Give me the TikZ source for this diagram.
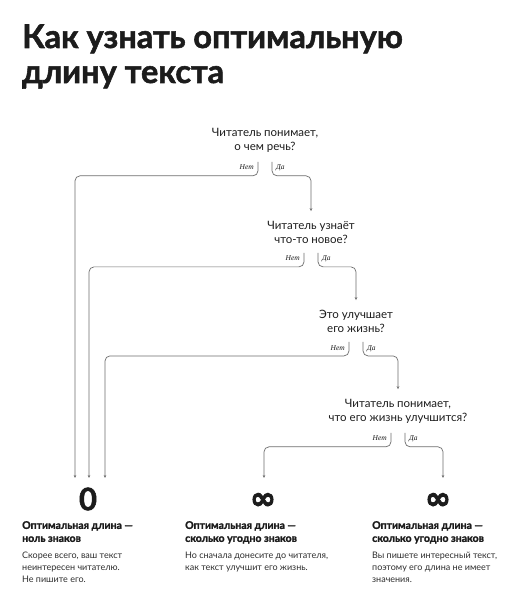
\documentclass[tikz,border=0pt]{standalone}
\usepackage{fontspec}
\setmainfont{Lato}
\newfontfamily\heavyfont{Lato}[BoldFeatures={FakeBold=1.6}]
\newfontfamily\answerfont{Liberation Serif}
\newfontfamily\symbolfont{DejaVu Sans}[BoldFeatures={FakeBold=3}]
\usetikzlibrary{arrows.meta,positioning}
\definecolor{inkblack}{HTML}{1C1C1C}
\definecolor{flowgray}{HTML}{6E6E6E}
\definecolor{bodygray}{HTML}{2E2E2E}

\begin{document}
\begin{tikzpicture}[x=1pt,y=-1pt,
  title/.style={anchor=base west,inner sep=0pt,font=\heavyfont\bfseries\fontsize{32.5}{35}\selectfont,text=inkblack},
  question/.style={align=center,inner xsep=0pt,inner ysep=9.5pt,font=\fontsize{11.5}{14}\selectfont,text=inkblack},
  answer/.style={inner sep=0pt,font=\answerfont\itshape\fontsize{7.5}{8}\selectfont,text=inkblack},
  flow/.style={draw=flowgray,line width=0.7pt,rounded corners=5pt,-{Stealth[length=3pt,width=2.6pt]}},
  result/.style={inner sep=0pt,text=inkblack},
  heading/.style={anchor=north west,inner sep=0pt,align=left,font=\heavyfont\bfseries\fontsize{10.5}{13}\selectfont,text=inkblack},
  note/.style={anchor=north west,inner sep=0pt,align=left,font=\fontsize{9}{12}\selectfont,text=bodygray}
]
  \useasboundingbox[fill=white] (0,0) rectangle (528,604);

  % title
  \node[title] (title1) at (22,48) {Как узнать оптимальную};
  \node[title] (title2) at (22,83) {длину текста};

  % questions
  \node[question] (q1) at (265,140) {Читатель понимает,\\о чем речь?};
  \node[question] (q2) at (311,232) {Читатель узнаёт\\что-то новое?};
  \node[question] (q3) at (356,321) {Это улучшает\\его жизнь?};
  \node[question] (q4) at (398,411) {Читатель понимает,\\что его жизнь улучшится?};

  % results
  \node[result,font=\heavyfont\bfseries\fontsize{31}{31}\selectfont] (zero) at (88,499) {0};
  \node[result,font=\symbolfont\bfseries\fontsize{31}{31}\selectfont] (inf1) at (263,501) {∞};
  \node[result,font=\symbolfont\bfseries\fontsize{31}{31}\selectfont] (inf2) at (438,501) {∞};

  \node[heading] (head1) at (22,521) {Оптимальная длина —\\ноль знаков};
  \node[heading] (head2) at (185,521) {Оптимальная длина —\\сколько угодно знаков};
  \node[heading] (head3) at (372,521) {Оптимальная длина —\\сколько угодно знаков};
  \node[note] (note1) at (22,552) {Скорее всего, ваш текст\\неинтересен читателю.\\Не пишите его.};
  \node[note] (note2) at (185,552) {Но сначала донесите до читателя,\\как текст улучшит его жизнь.};
  \node[note] (note3) at (372,552) {Вы пишете интересный текст,\\поэтому его длина не имеет\\значения.};

  % arrow ends
  \coordinate (in1) at (75,478);
  \coordinate (in2) at (89,478);
  \coordinate (in3) at (105,478);
  \coordinate (in4) at (264,478);
  \coordinate (in5) at (443,478);

  % branches
  \draw[flow] ([xshift=-7pt]q1.south) -- ++(0,14) -| (in1);
  \draw[flow] ([xshift=7pt]q1.south) -- ++(0,14) -| (q2.north);
  \node[answer,anchor=north east] (q1no) at ([xshift=-11pt,yshift=-3pt]q1.south) {Нет};
  \node[answer,anchor=north west] (q1yes) at ([xshift=11pt,yshift=-3pt]q1.south) {Да};

  \draw[flow] ([xshift=-7pt]q2.south) -- ++(0,14) -| (in2);
  \draw[flow] ([xshift=7pt]q2.south) -- ++(0,14) -| (q3.north);
  \node[answer,anchor=north east] (q2no) at ([xshift=-11pt,yshift=-3pt]q2.south) {Нет};
  \node[answer,anchor=north west] (q2yes) at ([xshift=11pt,yshift=-3pt]q2.south) {Да};

  \draw[flow] ([xshift=-7pt]q3.south) -- ++(0,14) -| (in3);
  \draw[flow] ([xshift=7pt]q3.south) -- ++(0,14) -| (q4.north);
  \node[answer,anchor=north east] (q3no) at ([xshift=-11pt,yshift=-3pt]q3.south) {Нет};
  \node[answer,anchor=north west] (q3yes) at ([xshift=11pt,yshift=-3pt]q3.south) {Да};

  \draw[flow] ([xshift=-7pt]q4.south) -- ++(0,14) -| (in4);
  \draw[flow] ([xshift=7pt]q4.south) -- ++(0,14) -| (in5);
  \node[answer,anchor=north east] (q4no) at ([xshift=-11pt,yshift=-3pt]q4.south) {Нет};
  \node[answer,anchor=north west] (q4yes) at ([xshift=11pt,yshift=-3pt]q4.south) {Да};
\end{tikzpicture}
\end{document}
